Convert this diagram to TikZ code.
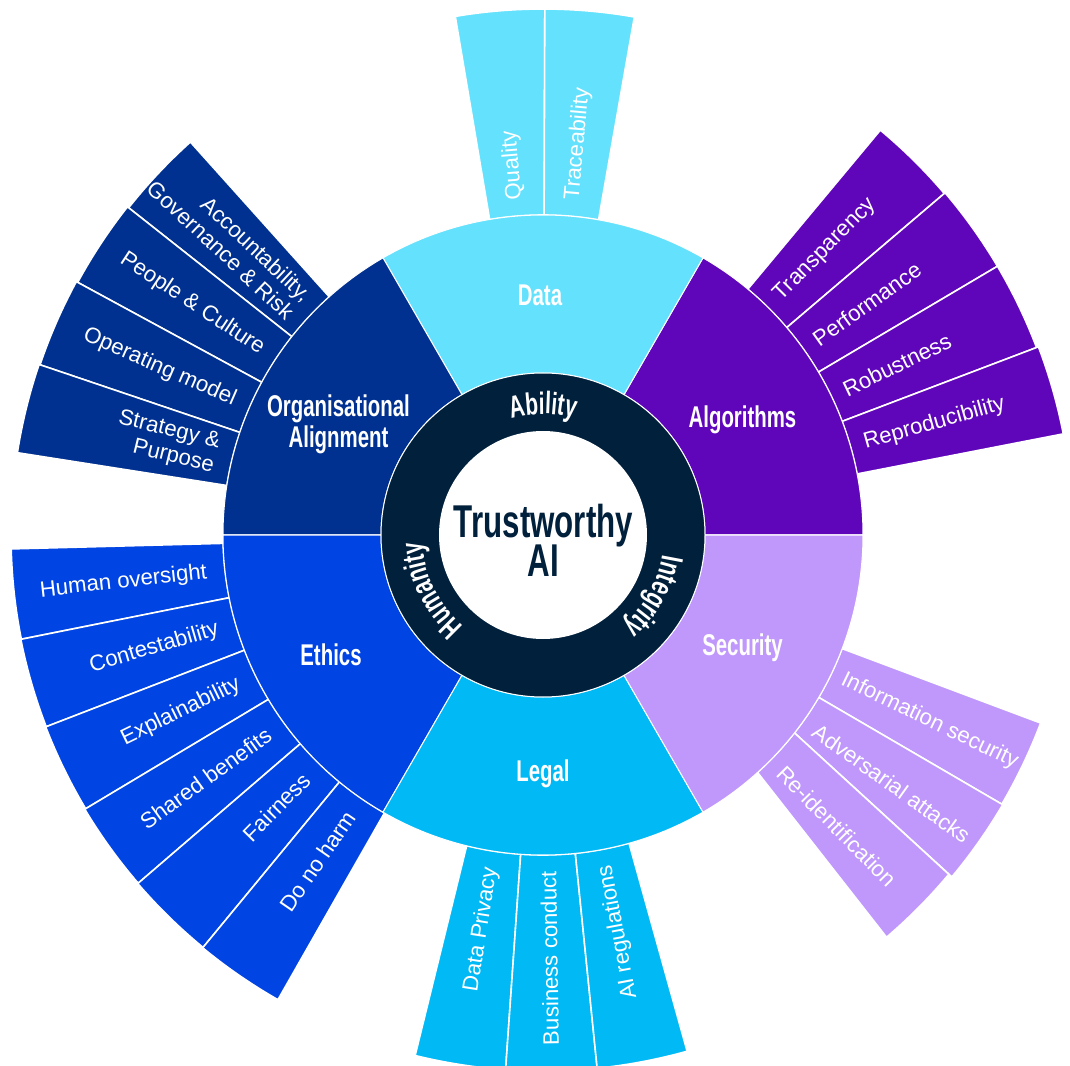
\documentclass[tikz,border=0pt]{standalone}
\usepackage{fontspec}
\setmainfont{Liberation Sans}
\newfontfamily\condfont{Liberation Sans}[FakeStretch=0.68]
\usetikzlibrary{decorations.text}
\definecolor{cData}{HTML}{64E1FD}
\definecolor{cAlgo}{HTML}{5F06BA}
\definecolor{cSec}{HTML}{C098FC}
\definecolor{cLegal}{HTML}{00B9F5}
\definecolor{cEthics}{HTML}{0044E3}
\definecolor{cOrg}{HTML}{003190}
\definecolor{cCore}{HTML}{01203C}
\newcommand\leaffont{\fontsize{22.2}{25}\selectfont}
\newcommand\midfont{\condfont\bfseries\fontsize{30}{31}\selectfont}
\newcommand\ringfont{\condfont\bfseries\fontsize{31}{31}\selectfont}
\newcommand\trustfont{\condfont\bfseries\fontsize{46}{39}\selectfont\lineskiplimit=-50pt}
\begin{document}
\begin{tikzpicture}[x=1pt,y=1pt,
  leafstyle/.style={draw=white, line width=1.6pt, line join=round},
  sectorstyle/.style={draw=white, line width=1pt},
  leaflabel/.style={text=white, font=\leaffont, inner sep=0pt},
  midlabel/.style={text=white, font=\midfont, inner sep=0pt},
  ringlabel/.style={decorate, decoration={text along path, text align=center, text color=white}},
]
\useasboundingbox (-543,-530) rectangle (527,535);

% outer leaves: base angles a..b at r=320, outer angles p..q at radius r
\foreach \a/\b/\p/\q/\r/\c in {
  89.8/99.6/89.8/99.6/526/cData, 80/89.8/80/89.8/526/cData,
  40.4/50.2/40.4/50.2/527/cAlgo, 30.6/40.4/30.6/40.4/528/cAlgo,
  20.8/30.6/20.8/30.6/528/cAlgo, 11/20.8/11/20.8/530/cAlgo,
  -30.5/-20.8/-30.4/-20.7/532/cSec, -38.2/-30.5/-39.9/-30.4/533/cSec,
  -47.9/-38.2/-49.5/-39.9/529/cSec,
  256.2/266/256.2/266/536/cLegal, 266/275.8/266/275.8/536/cLegal, 275.8/285.6/275.8/285.6/536/cLegal,
  181.5/191.3/181.5/191.3/532/cEthics, 191.3/201.1/191.3/201.1/532.5/cEthics,
  201.1/210.9/201.1/210.9/533/cEthics, 210.9/220.7/210.9/220.7/534/cEthics,
  220.7/230.5/220.7/230.5/534.5/cEthics, 230.5/240.3/230.5/240.3/535/cEthics,
  131.9/141.7/131.9/141.7/528/cOrg, 141.7/151.5/141.7/151.5/529.5/cOrg,
  151.5/161.3/151.5/161.3/531/cOrg, 161.3/171.1/161.3/171.1/532/cOrg}
{
  \path[leafstyle, fill=\c] (\a:320pt) arc[start angle=\a, end angle=\b, radius=320pt]
     -- (\q:\r pt) arc[start angle=\q, end angle=\p, radius=\r pt] -- cycle;
}

% middle ring
\foreach \a/\c in {0/cAlgo, 60/cData, 120/cOrg, 180/cEthics, 240/cLegal, 300/cSec}
{
  \path[sectorstyle, fill=\c] (\a:162pt) arc[start angle=\a, end angle=\a+60, radius=162pt]
     -- (\a+60:320pt) arc[start angle=\a+60, end angle=\a, radius=320pt] -- cycle;
}

% core
\path[fill=cCore, draw=white, line width=1pt] (0,0) circle[radius=162pt];
\path[fill=white] (0,0) circle[radius=104pt];

\node[text=cCore, font=\trustfont, align=center, inner sep=0pt] (core) at (0.5,-5.8) {Trustworthy\\AI};

\path[ringlabel, decoration={text={|\ringfont|Ability}}] (150:121pt) arc[start angle=150, end angle=30, radius=121pt];
\path[ringlabel, decoration={text={|\ringfont|Integrity}}] (31:121pt) arc[start angle=31, end angle=-89, radius=121pt];
\path[ringlabel, decoration={text={|\ringfont|Humanity}}] (266:121pt) arc[start angle=266, end angle=146, radius=121pt];

% middle labels
\node[midlabel, anchor=base] (data) at (-3,229) {Data};
\node[midlabel, anchor=base] (algorithms) at (199.5,107) {Algorithms};
\node[midlabel, anchor=base] (security) at (199.5,-120) {Security};
\node[midlabel, anchor=base] (legal) at (0,-246) {Legal};
\node[midlabel, anchor=base] (ethics) at (-212,-130) {Ethics};
\node[midlabel, align=center] (org) at (-204.5,110.5) {Organisational\\Alignment};

% leaf labels: outward reading
\node[leaflabel, rotate=94.7, anchor=west] (quality) at (94.7:336pt) {Quality};
\node[leaflabel, rotate=84.9, anchor=west] (traceability) at (84.9:336pt) {Traceability};
\node[leaflabel, rotate=45.3, anchor=west] (transparency) at (45.3:334pt) {Transparency};
\node[leaflabel, rotate=35.5, anchor=west] (performance) at (35.5:334pt) {Performance};
\node[leaflabel, rotate=25.7, anchor=west] (robustness) at (25.7:334pt) {Robustness};
\node[leaflabel, rotate=15.9, anchor=west] (reproducibility) at (15.9:334pt) {Reproducibility};
\node[leaflabel, rotate=-25.7, anchor=west] (infosec) at (-25.7:332pt) {Information security};
\node[leaflabel, rotate=-35.5, anchor=west] (adversarial) at (-35.5:334pt) {Adversarial attacks};
\node[leaflabel, rotate=-45.3, anchor=west] (reident) at (-44.6:334pt) {Re-identification};
% inward reading
\node[leaflabel, rotate=81.1, anchor=east] (privacy) at (261.1:336pt) {Data Privacy};
\node[leaflabel, rotate=90.9, anchor=east] (conduct) at (270.9:336pt) {Business conduct};
\node[leaflabel, rotate=100.7, anchor=east] (regulations) at (280.7:336pt) {AI regulations};
\node[leaflabel, rotate=6.4, anchor=east] (oversight) at (186.4:338pt) {Human oversight};
\node[leaflabel, rotate=16.2, anchor=east] (contest) at (196.2:338pt) {Contestability};
\node[leaflabel, rotate=26, anchor=east] (explain) at (206:338pt) {Explainability};
\node[leaflabel, rotate=35.8, anchor=east] (shared) at (215.8:338pt) {Shared benefits};
\node[leaflabel, rotate=45.6, anchor=east] (fairness) at (225.6:338pt) {Fairness};
\node[leaflabel, rotate=55.4, anchor=east] (noharm) at (235.4:338pt) {Do no harm};
\node[leaflabel, rotate=-43.2, anchor=east, align=right] (account) at (136.8:334pt) {Accountability,\\Governance \& Risk};
\node[leaflabel, rotate=-33.4, anchor=east] (people) at (146.6:336pt) {People \& Culture};
\node[leaflabel, rotate=-23.6, anchor=east] (operating) at (156.4:336pt) {Operating model};
\node[leaflabel, rotate=-13.8, anchor=east, align=right] (strategy) at (166.2:336pt) {Strategy \&\\Purpose};
\end{tikzpicture}
\end{document}
